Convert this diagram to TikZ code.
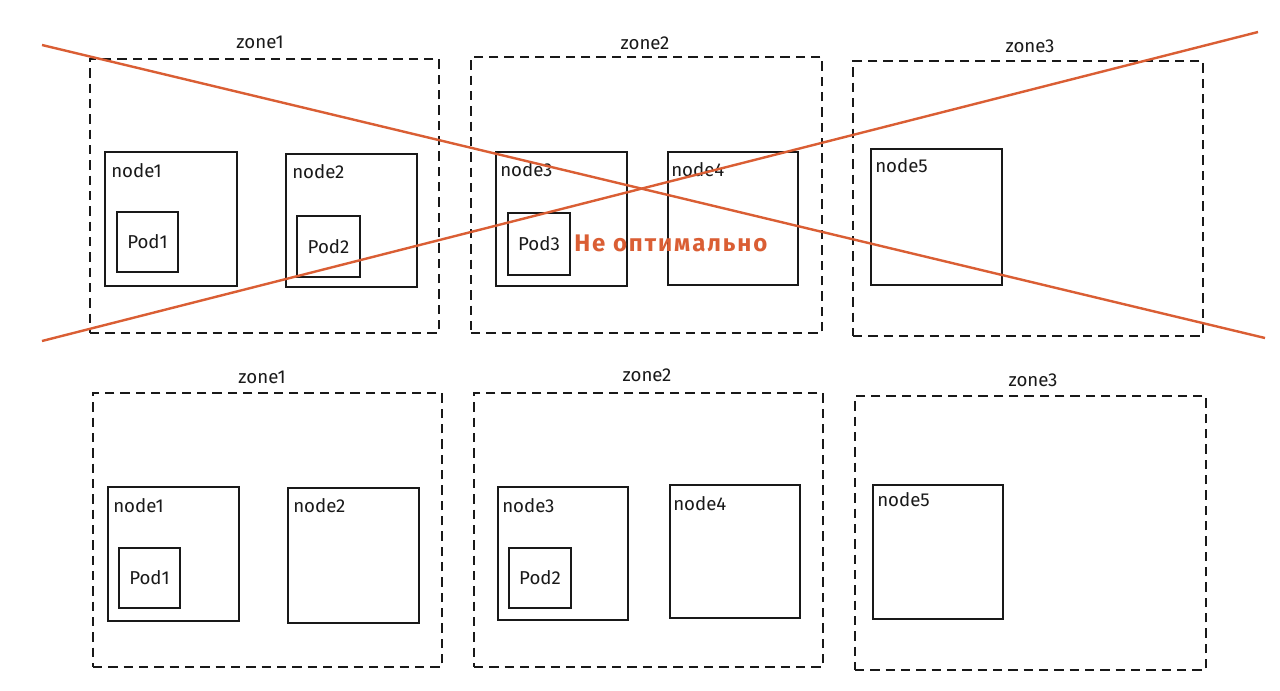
\documentclass[tikz,border=0pt]{standalone}
\usepackage{fontspec}
\setmainfont{Fira Sans}
\newfontfamily\redfont[LetterSpace=8]{Fira Sans}
\usetikzlibrary{fit,calc}
\definecolor{strike}{RGB}{218,94,52}
\definecolor{ink}{RGB}{25,25,25}
\tikzset{
 zone/.style={draw=ink, line width=1.1pt, dash pattern=on 7pt off 4.5pt, inner sep=0pt},
 host/.style={draw=ink, line width=1.5pt, inner sep=0pt},
 pod/.style={draw=ink, line width=1.3pt, inner sep=0pt},
 txt/.style={font=\fontsize{14}{16}\selectfont, text=ink, inner sep=0pt},
 hlabel/.style={txt, anchor=west},
 cross/.style={draw=strike, line width=1.8pt},
}
\begin{document}
\begin{tikzpicture}[x=0.75pt, y=-0.75pt]
\useasboundingbox[fill=white] (0,0) rectangle (1280,690);

% ---------- top row ----------
\node[zone, fit={(90,59) (439,333)}] (az1) {};
\node[zone, fit={(471,57) (822,333)}] (az2) {};
\node[zone, fit={(853,61) (1203,336)}] (az3) {};
\node[txt] (az1t) at (260,42) {zone1};
\node[txt] (az2t) at (645,43) {zone2};
\node[txt] (az3t) at (1030,46) {zone3};

\node[host, fit={(105,152) (237,286)}] (an1) {};
\node[host, fit={(286,154) (417,287)}] (an2) {};
\node[host, fit={(496,152) (627,286)}] (an3) {};
\node[host, fit={(668,152) (798,285)}] (an4) {};
\node[host, fit={(871,149) (1002,285)}] (an5) {};
\node[hlabel] (an1t) at (111,171) {node1};
\node[hlabel] (an2t) at (292,172) {node2};
\node[hlabel] (an3t) at (500,170) {node3};
\node[hlabel] (an4t) at (671,170) {node4};
\node[hlabel] (an5t) at (875,166) {node5};

\node[pod, fit={(117,212) (178,272)}] (ap1) {};
\node[pod, fit={(297,216) (360,277)}] (ap2) {};
\node[pod, fit={(508,213) (570,275)}] (ap3) {};
\node[txt] (ap1t) at (ap1) {Pod1};
\node[txt] (ap2t) at (ap2) {Pod2};
\node[txt] (ap3t) at (ap3) {Pod3};

\node[anchor=west, inner sep=0pt, text=strike, font=\redfont\fontsize{18}{20}\selectfont\bfseries] (warn) at (574,243) {Не оптимально};

\coordinate (c1a) at (42,45);
\coordinate (c1b) at (1265,338);
\coordinate (c2a) at (42,341);
\coordinate (c2b) at (1258,32);
\draw[cross] (c1a) -- (c1b);
\draw[cross] (c2a) -- (c2b);

% ---------- bottom row ----------
\node[zone, fit={(93,393) (442,667)}] (bz1) {};
\node[zone, fit={(474,393) (823,667)}] (bz2) {};
\node[zone, fit={(855,396) (1206,670)}] (bz3) {};
\node[txt] (bz1t) at (262,377) {zone1};
\node[txt] (bz2t) at (647,375) {zone2};
\node[txt] (bz3t) at (1033,380) {zone3};

\node[host, fit={(108,487) (239,621)}] (bn1) {};
\node[host, fit={(288,488) (419,623)}] (bn2) {};
\node[host, fit={(498,487) (628,620)}] (bn3) {};
\node[host, fit={(670,485) (800,618)}] (bn4) {};
\node[host, fit={(873,485) (1003,619)}] (bn5) {};
\node[hlabel] (bn1t) at (113,506) {node1};
\node[hlabel] (bn2t) at (293,506) {node2};
\node[hlabel] (bn3t) at (502,506) {node3};
\node[hlabel] (bn4t) at (673,504) {node4};
\node[hlabel] (bn5t) at (877,500) {node5};

\node[pod, fit={(119,548) (180,608)}] (bp1) {};
\node[pod, fit={(509,548) (571,608)}] (bp2) {};
\node[txt] (bp1t) at (bp1) {Pod1};
\node[txt] (bp2t) at (bp2) {Pod2};
\end{tikzpicture}
\end{document}
